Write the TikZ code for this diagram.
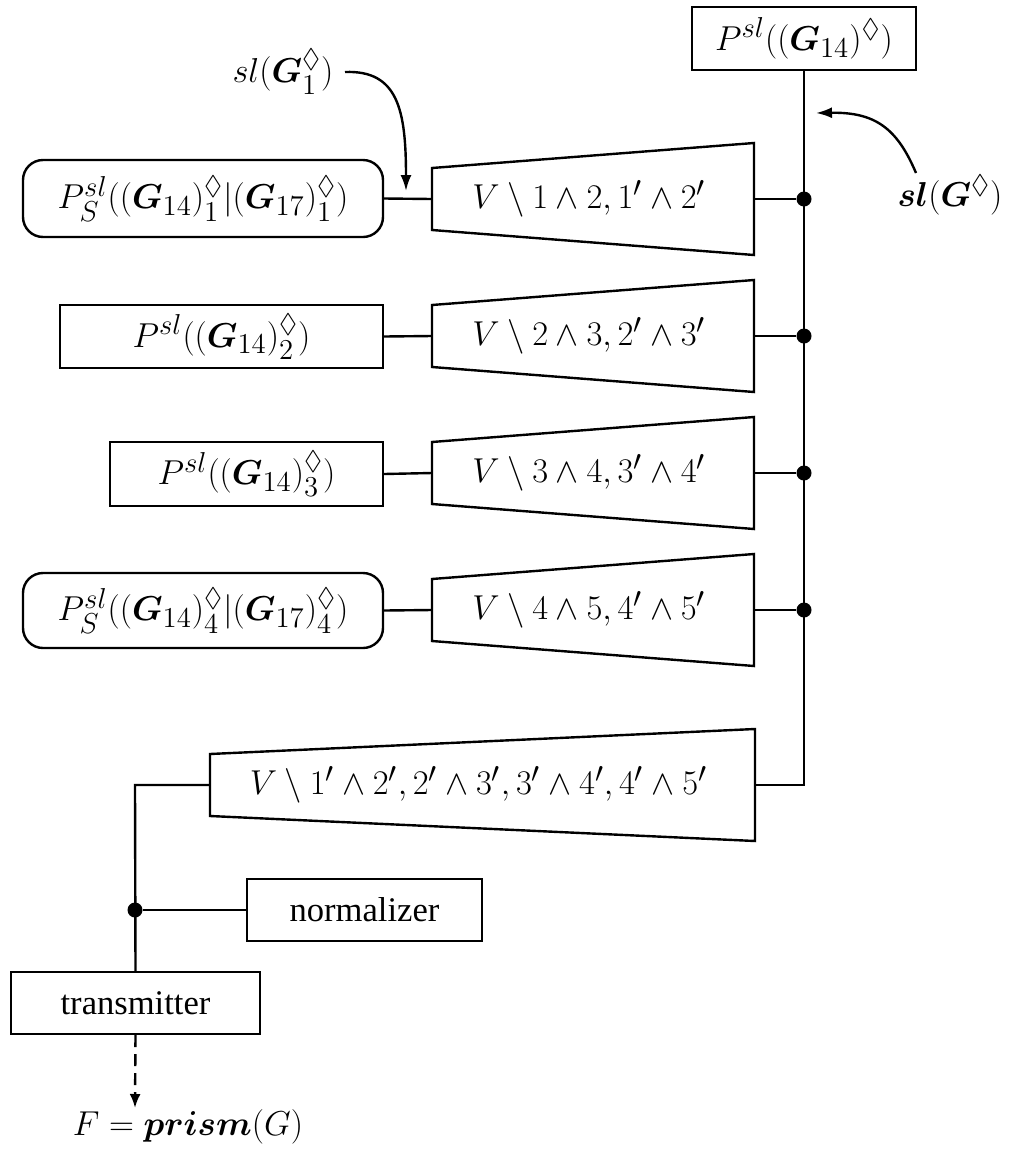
\documentclass[tikz,border=0pt]{standalone}
\usepackage{amsmath,amssymb}
\usepackage[no-math]{fontspec}
\setmainfont{Liberation Serif}
\usetikzlibrary{arrows.meta}
\DeclareMathSizes{17.28}{17.28}{13.5}{10.5}

% funnel-shaped block: name, left x, right x, centre y, label
\newcommand\vtrap[5]{%
  \draw[trapline] (#2,#4-31) -- (#3,#4-56) -- (#3,#4+56) -- (#2,#4+31) -- cycle;
  \coordinate (#1L) at (#2,#4);
  \coordinate (#1R) at (#3,#4);
  \node (#1) at ({(#2+#3)/2-4},#4) {#5};
}

\begin{document}
\begin{tikzpicture}[x=0.5pt,y=-0.5pt,
  every node/.style={font=\LARGE, inner sep=0pt},
  trapline/.style={line width=1.2pt},
  sbox/.style={draw, line width=1.2pt, rectangle},
  rbox/.style={sbox, rounded corners=10pt},
  link/.style={line width=1.2pt},
  dot/.style={circle, fill, inner sep=0pt, minimum size=7.5pt},
  arr/.style={line width=1.2pt, -{Latex[length=8pt,width=5.5pt]}},
  darr/.style={line width=1.2pt, dash pattern=on 6pt off 3.5pt, -{Latex[length=7pt,width=5.5pt]}}]

\useasboundingbox (0,0) rectangle (1013,1152);

% source boxes
\node[sbox, minimum width=112pt, minimum height=31.5pt] (top) at (804,38.5)
  {$P^{sl}((\boldsymbol{G}_{14})^{\Diamond})$};
\node[rbox, minimum width=180pt, minimum height=38.5pt] (b1) at (203,198.5)
  {$P^{sl}_S((\boldsymbol{G}_{14})^{\Diamond}_1|(\boldsymbol{G}_{17})^{\Diamond}_1)$};
\node[sbox, minimum width=161.5pt, minimum height=31.5pt] (b2) at (221.5,336.5)
  {$P^{sl}((\boldsymbol{G}_{14})^{\Diamond}_2)$};
\node[sbox, minimum width=136.5pt, minimum height=32pt] (b3) at (246.5,474)
  {$P^{sl}((\boldsymbol{G}_{14})^{\Diamond}_3)$};
\node[rbox, minimum width=180pt, minimum height=37.5pt] (b4) at (203,610.5)
  {$P^{sl}_S((\boldsymbol{G}_{14})^{\Diamond}_4|(\boldsymbol{G}_{17})^{\Diamond}_4)$};

% filter blocks
\vtrap{t1}{432}{754}{199}{$V\setminus 1\wedge 2, 1'\wedge 2'$}
\vtrap{t2}{432}{754}{336}{$V\setminus 2\wedge 3, 2'\wedge 3'$}
\vtrap{t3}{432}{754}{473}{$V\setminus 3\wedge 4, 3'\wedge 4'$}
\vtrap{t4}{432}{754}{610}{$V\setminus 4\wedge 5, 4'\wedge 5'$}
\vtrap{t5}{210}{755}{785}{$V\setminus 1'\wedge 2', 2'\wedge 3', 3'\wedge 4', 4'\wedge 5'$}

% bus junctions
\node[dot] (d1) at (804,199) {};
\node[dot] (d2) at (804,336) {};
\node[dot] (d3) at (804,473) {};
\node[dot] (d4) at (804,610) {};
\coordinate (bend) at (804,785);
\coordinate (lbend) at (135,785);

% output stage
\node[sbox, minimum width=117.5pt, minimum height=31pt] (norm) at (364.5,910) {normalizer};
\node[sbox, minimum width=124.5pt, minimum height=31pt] (trans) at (135.5,1003) {transmitter};
\node[dot] (d5) at (135,910) {};
\node (out) at (188,1127) {$F=\boldsymbol{prism}(G)$};
\coordinate (outtip) at (135,1108);

% connections
\draw[link] (b1.east) -- (t1L);
\draw[link] (b2.east) -- (t2L);
\draw[link] (b3.east) -- (t3L);
\draw[link] (b4.east) -- (t4L);
\draw[link] (t1R) -- (d1);
\draw[link] (t2R) -- (d2);
\draw[link] (t3R) -- (d3);
\draw[link] (t4R) -- (d4);
\draw[link] (top.south) -- (bend) -- (t5R);
\draw[link] (t5L) -- (lbend) -- (trans.north);
\draw[link] (d5) -- (norm.west);
\draw[darr] (trans.south) -- (outtip);

% parameter inputs
\node (slg1) at (283,72) {$sl(\boldsymbol{G}^{\Diamond}_1)$};
\coordinate (s1) at (345,72);
\coordinate (e1) at (406,191);
\draw[arr] (s1) .. controls (398,70) and (406,110) .. (e1);

\node (slg) at (950,195) {$\boldsymbol{sl}(\boldsymbol{G}^{\Diamond})$};
\coordinate (s2) at (916,173);
\coordinate (e2) at (816,113);
\draw[arr] (s2) .. controls (897,128) and (875,112) .. (e2);

\end{tikzpicture}
\end{document}
